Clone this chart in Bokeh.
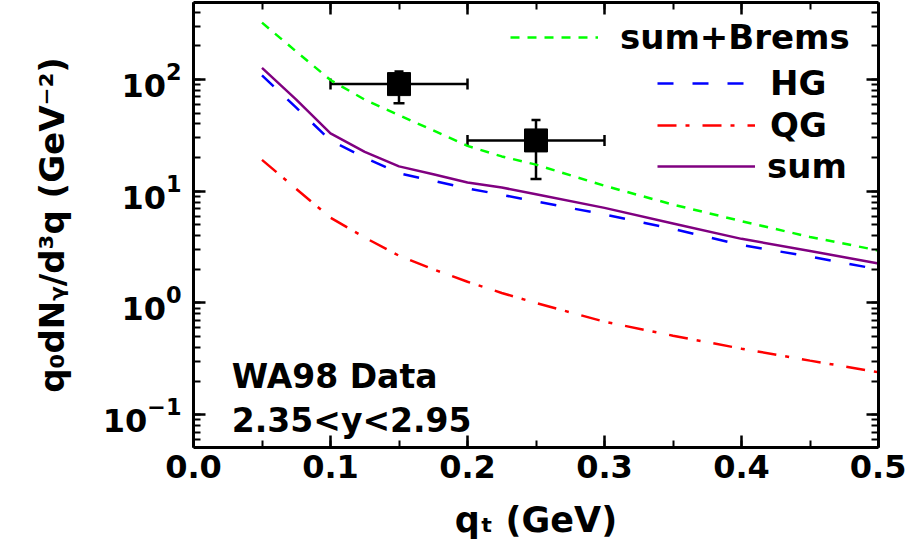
from bokeh.plotting import figure
from bokeh.models import (Range1d, LinearAxis, LogAxis, Legend, LegendItem, Whisker,
                          ColumnDataSource, TeeHead, SingleIntervalTicker, LogTicker,
                          PrintfTickFormatter, Label)
from bokeh.embed import file_html
from bokeh.resources import INLINE

# ---------------- data ----------------
qt = [0.05, 0.075, 0.1, 0.125, 0.15, 0.175, 0.2, 0.225, 0.25, 0.3, 0.35, 0.4, 0.45, 0.5]
sum_brems = [323, 178, 99, 66, 48, 35, 25.5, 20.5, 17.3, 11.2, 7.6, 5.4, 3.9, 2.95]
hg = [109, 56, 28.5, 20, 14.5, 12.4, 10.6, 9.3, 8.1, 6.2, 4.6, 3.3, 2.6, 2.0]
qg = [19.1, 10.5, 5.8, 3.85, 2.65, 2.0, 1.55, 1.23, 1.0, 0.68, 0.51, 0.39, 0.305, 0.24]
total = [127, 66, 33, 22.5, 16.7, 14.2, 12.0, 10.8, 9.4, 7.1, 5.15, 3.75, 2.92, 2.26]

data_x = [0.15, 0.25]
data_y = [91, 28.5]
data_xlo = [0.10, 0.20]
data_xhi = [0.20, 0.30]
data_ylo = [61.4, 12.9]
data_yhi = [118, 43.5]

series_labels = ["sum+Brems", "HG", "QG", "sum"]
note_lines = ["WA98 Data", "2.35<y<2.95"]
note_x = 0.028
note_y = [0.219, 0.0879]

FONT = "DejaVu Sans"

p = figure(width=906, height=550,
           x_range=Range1d(0.0, 0.5), y_range=Range1d(0.0509, 489),
           y_axis_type="log", output_backend="svg", toolbar_location=None,
           min_border_left=193, min_border_right=28, min_border_top=2,
           min_border_bottom=103)
p.xgrid.visible = False
p.ygrid.visible = False
p.outline_line_color = None
p.background_fill_color = "white"
p.border_fill_color = "white"


def style(ax):
    ax.axis_line_width = 3
    ax.axis_line_color = "black"
    ax.major_tick_in = 12
    ax.major_tick_out = 0
    ax.minor_tick_in = 7
    ax.minor_tick_out = 0
    ax.major_tick_line_width = 2.5
    ax.minor_tick_line_width = 2
    ax.major_label_text_font = FONT
    ax.major_label_text_font_style = "bold"
    ax.major_label_text_color = "black"
    ax.axis_label_text_font = FONT
    ax.axis_label_text_font_style = "bold"
    ax.axis_label_text_color = "black"


xa = p.xaxis[0]
xa.ticker = SingleIntervalTicker(interval=0.1, num_minor_ticks=2)
xa.formatter = PrintfTickFormatter(format="%.1f")
style(xa)
xa.major_label_text_font_size = "32px"
xa.major_label_standoff = 7
xa.axis_label = "q\u209c (GeV)"
xa.axis_label_text_font_size = "35px"
xa.axis_label_standoff = 19

ya = p.yaxis[0]
ya.ticker = LogTicker(num_minor_ticks=10)
style(ya)
ya.major_label_text_font_size = "32px"
ya.major_label_standoff = 12
ya.axis_label = "q\u2080dN\u1d67/d\u00b3q (GeV\u207b\u00b2)"
ya.axis_label_text_font_size = "34px"
ya.axis_label_standoff = 28

top = LinearAxis(ticker=SingleIntervalTicker(interval=0.1, num_minor_ticks=2),
                 major_label_text_alpha=0, major_label_text_font_size="2px",
                 major_label_standoff=0)
style(top)
p.add_layout(top, "above")
right = LogAxis(ticker=LogTicker(num_minor_ticks=10),
                major_label_text_alpha=0, major_label_text_font_size="2px",
                major_label_standoff=0)
style(right)
p.add_layout(right, "right")

# ---------------- curves ----------------
r_green = p.line(qt, sum_brems, line_color="#00ff00", line_width=2.5, line_dash="9 8")
r_blue = p.line(qt, hg, line_color="#0000ff", line_width=2.5, line_dash="16 19")
r_red = p.line(qt, qg, line_color="#ff0000", line_width=2.5, line_dash="19 9 4 13")
r_purple = p.line(qt, total, line_color="#800080", line_width=2.5)

# ---------------- data points ----------------
src = ColumnDataSource(dict(x=data_x, y=data_y, xlo=data_xlo, xhi=data_xhi,
                            ylo=data_ylo, yhi=data_yhi))
p.add_layout(Whisker(source=src, base="y", lower="xlo", upper="xhi", dimension="width",
                     line_width=2.5, line_color="black",
                     lower_head=TeeHead(size=11, line_width=2.5),
                     upper_head=TeeHead(size=11, line_width=2.5)))
p.add_layout(Whisker(source=src, base="x", lower="ylo", upper="yhi", dimension="height",
                     line_width=2.5, line_color="black",
                     lower_head=TeeHead(size=11, line_width=2.5),
                     upper_head=TeeHead(size=9, line_width=2.5)))
p.scatter("x", "y", source=src, marker="square", size=23, fill_color="black",
          line_color="black")

# ---------------- legend (one entry per box, like the reference) ----------------
legend_specs = [
    (series_labels[0], r_green, (317, 390), 88, 22),
    (series_labels[1], r_blue, (464, 344), 88, 25),
    (series_labels[2], r_red, (464, 302), 98, 15),
    (series_labels[3], r_purple, (464, 261), 98, 12),
]
for label, rend, loc, gw, st in legend_specs:
    lg = Legend(items=[LegendItem(label=label, renderers=[rend])], location=loc,
                padding=0, margin=0, spacing=0, border_line_color=None,
                background_fill_alpha=0, glyph_width=gw, glyph_height=40,
                label_height=40, label_standoff=st,
                label_text_font=FONT, label_text_font_style="bold",
                label_text_font_size="34px", label_text_color="black")
    p.add_layout(lg)

# ---------------- annotation text ----------------
for txt, yy in zip(note_lines, note_y):
    p.add_layout(Label(x=note_x, y=yy, text=txt, text_font=FONT,
                       text_font_style="bold", text_font_size="33px",
                       text_color="black", text_baseline="alphabetic"))

open("out.html", "w").write(file_html(p, INLINE))
